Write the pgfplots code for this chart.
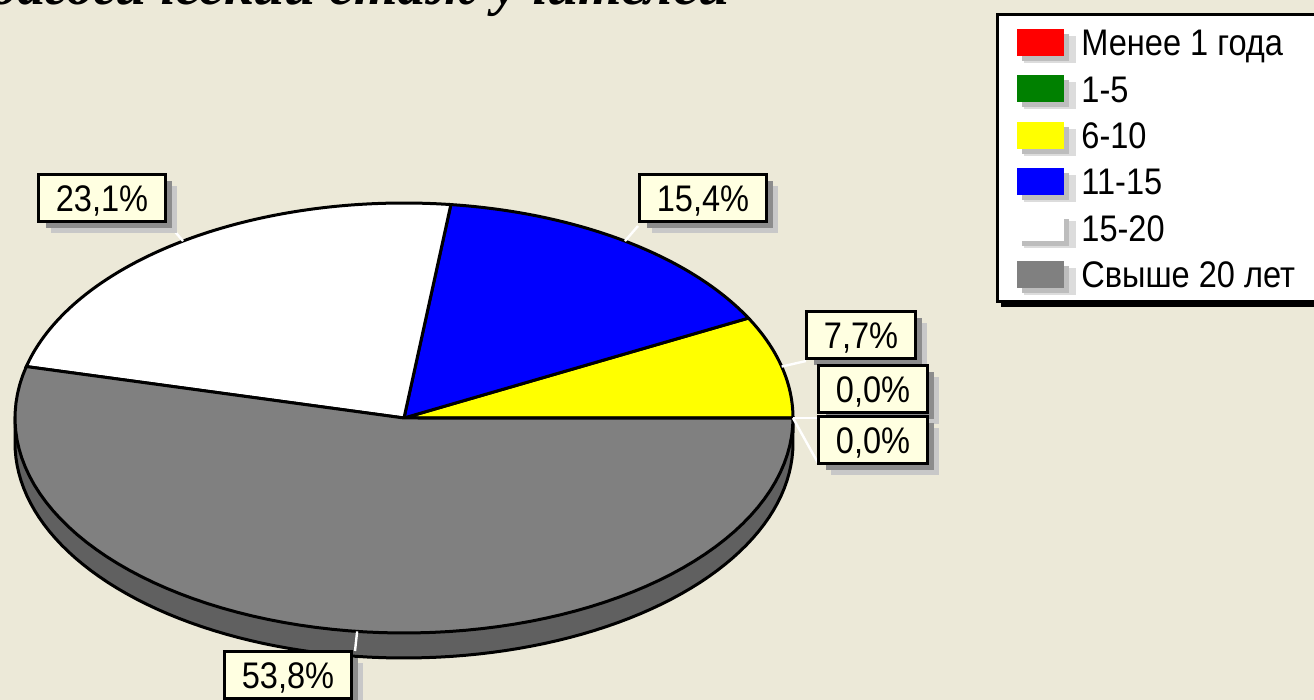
\documentclass[border=0pt]{standalone}
\usepackage{fontspec}
\setmainfont{Liberation Sans}
\newfontfamily\lab[FakeStretch=0.88]{Liberation Sans}
\newfontfamily\ttl{Liberation Serif}
\usepackage{pgfplots}
\usepackage{pgfplotstable}
\pgfplotsset{compat=1.18}
\usetikzlibrary{shadows}

\definecolor{bg}{HTML}{ECE9D8}
\definecolor{tip}{HTML}{FFFFE1}
\definecolor{sc0}{HTML}{FF0000}
\definecolor{sc1}{HTML}{008000}
\definecolor{sc2}{HTML}{FFFF00}
\definecolor{sc3}{HTML}{0000FF}
\definecolor{sc4}{HTML}{FFFFFF}
\definecolor{sc5}{HTML}{808080}
\definecolor{rim}{HTML}{606060}
\definecolor{shd}{HTML}{8C8C8C}
\definecolor{shl}{HTML}{C8C8C8}
\definecolor{legd}{HTML}{BDBDBD}
\definecolor{legl}{HTML}{DCDCDC}

% teachers by years of service
\pgfplotstableread[col sep=comma]{
label,value
Менее 1 года,0
1-5,0
6-10,1
11-15,2
15-20,3
Свыше 20 лет,7
}\stazh

\newcommand\txt{\lab\fontsize{18.5}{20}\selectfont}
\newcommand\pct[1]{\csname sp#1\endcsname\%}

\tikzset{
  pbox/.style={draw=black, line width=1.5pt, fill=tip, inner xsep=8.5pt,
    inner ysep=5pt, text height=13.5pt, text depth=0pt, font=\txt,
    drop shadow={shadow xshift=6pt, shadow yshift=-6pt, fill=shl, opacity=1},
    drop shadow={shadow xshift=3.5pt, shadow yshift=-3.5pt, fill=shd, opacity=1}},
  lead/.style={white, line width=1.2pt},
}

\newcommand\legentry[3]{%
  \fill[legl] (axis cs:1024,{#1+7}) rectangle (axis cs:1076,{#1+34});
  \fill[legd] (axis cs:1022,{#1+5}) rectangle (axis cs:1069,{#1+32});
  \fill[#2] (axis cs:1017,#1) rectangle (axis cs:1064,{#1+27});
  \node[anchor=base west, font=\txt, inner sep=0pt] at (axis cs:1081,{#1+27}) {#3};
}

\begin{document}%
\begin{tikzpicture}
% slice angles and percentages from the table
\def\sumtotal{0}
\pgfplotsforeachungrouped \i in {0,...,5}{%
  \pgfplotstablegetelem{\i}{value}\of\stazh
  \pgfmathsetmacro\sumtotal{\sumtotal+\pgfplotsretval}%
}
\def\acc{0}
\pgfplotsforeachungrouped \i in {0,...,5}{%
  \pgfplotstablegetelem{\i}{value}\of\stazh
  \let\v\pgfplotsretval
  \pgfmathsetmacro\a{360*\acc/\sumtotal}%
  \pgfmathsetmacro\acc{\acc+\v}%
  \pgfmathsetmacro\b{360*\acc/\sumtotal}%
  \pgfmathsetmacro\m{(\a+\b)/2}%
  \pgfmathsetmacro\p{100*\v/\sumtotal}%
  \expandafter\xdef\csname sa\i\endcsname{\a}%
  \expandafter\xdef\csname sb\i\endcsname{\b}%
  \expandafter\xdef\csname sm\i\endcsname{\m}%
  \expandafter\xdef\csname sv\i\endcsname{\v}%
  \pgfmathprintnumberto[fixed, precision=1, fixed zerofill, use comma,
    assume math mode=true]{\p}{\pp}%
  \expandafter\global\expandafter\let\csname sp\i\endcsname\pp
}
\fill[bg] (0,0) rectangle (657pt,350pt);
\useasboundingbox (0,0) rectangle (657pt,350pt);
\clip (0,0) rectangle (657pt,350pt);
\begin{axis}[
    at={(328.5pt,175pt)}, anchor=center,
    scale only axis, width=657pt, height=350pt,
    xmin=0, xmax=1314, ymin=0, ymax=700, y dir=reverse,
    hide axis, clip=false,
  ]
  % side of the disc
  \addplot[fill=rim, draw=black, line width=1.5pt, domain=180:360, samples=90,
    variable=\t] ({404+389*cos(\t)}, {443-215*sin(\t)})
    -- (axis cs:793,418) -- (axis cs:15,418) -- cycle;
  % top face
  \pgfplotsinvokeforeach{0,...,5}{%
    \ifdim\csname sv#1\endcsname pt>0pt
      \addplot[fill=sc#1, draw=black, line width=1.5pt, samples=80,
        domain=\csname sa#1\endcsname:\csname sb#1\endcsname, variable=\t]
        ({404+389*cos(\t)}, {418-215*sin(\t)}) -- (axis cs:404,418) -- cycle;
    \fi
  }
  % leader lines
  \draw[lead] (axis cs:{404+389*cos(\csname sm2\endcsname)},{418-215*sin(\csname sm2\endcsname)}) -- (axis cs:806,361);
  \draw[lead] (axis cs:{404+389*cos(\csname sm3\endcsname)},{418-215*sin(\csname sm3\endcsname)}) -- (axis cs:638,226);
  \draw[lead] (axis cs:{404+389*cos(\csname sm4\endcsname)},{418-215*sin(\csname sm4\endcsname)}) -- (axis cs:171,227);
  \draw[lead] (axis cs:{404+389*cos(\csname sm5\endcsname)},{418-215*sin(\csname sm5\endcsname)}) -- (axis cs:355,651);
  \draw[lead] (axis cs:{404+389*cos(\csname sm0\endcsname)},{418-215*sin(\csname sm0\endcsname)}) -- (axis cs:818,418);
  \draw[lead] (axis cs:{404+389*cos(\csname sm1\endcsname)},{418-215*sin(\csname sm1\endcsname)}) -- (axis cs:818,463);
  % value labels
  \node[pbox] at (axis cs:102,198) {\pct{4}};
  \node[pbox] at (axis cs:703,198) {\pct{3}};
  \node[pbox] at (axis cs:861,335) {\pct{2}};
  \node[pbox] at (axis cs:873,389) {\pct{0}};
  \node[pbox] at (axis cs:873,440) {\pct{1}};
  \node[pbox, overlay] at (axis cs:288,675) {\pct{5}};
  % legend
  \fill[black, overlay] (axis cs:1001,18) rectangle (axis cs:1330,307);
  \draw[black, line width=1.5pt, fill=white, overlay] (axis cs:997.5,14.5) rectangle (axis cs:1330,302);
  \legentry{29}{sc0}{Менее 1 года}
  \legentry{75.5}{sc1}{1-5}
  \legentry{122}{sc2}{6-10}
  \legentry{168}{sc3}{11-15}
  \legentry{214.5}{sc4}{15-20}
  \legentry{261}{sc5}{Свыше 20 лет}
  % title, cut off by the top edge
  \node[overlay, anchor=base east, inner sep=0pt, font=\ttl\bfseries\itshape\fontsize{28}{30}\selectfont]
    at (axis cs:730,5) {Педагогический стаж учителей};
\end{axis}
\end{tikzpicture}%
\end{document}
